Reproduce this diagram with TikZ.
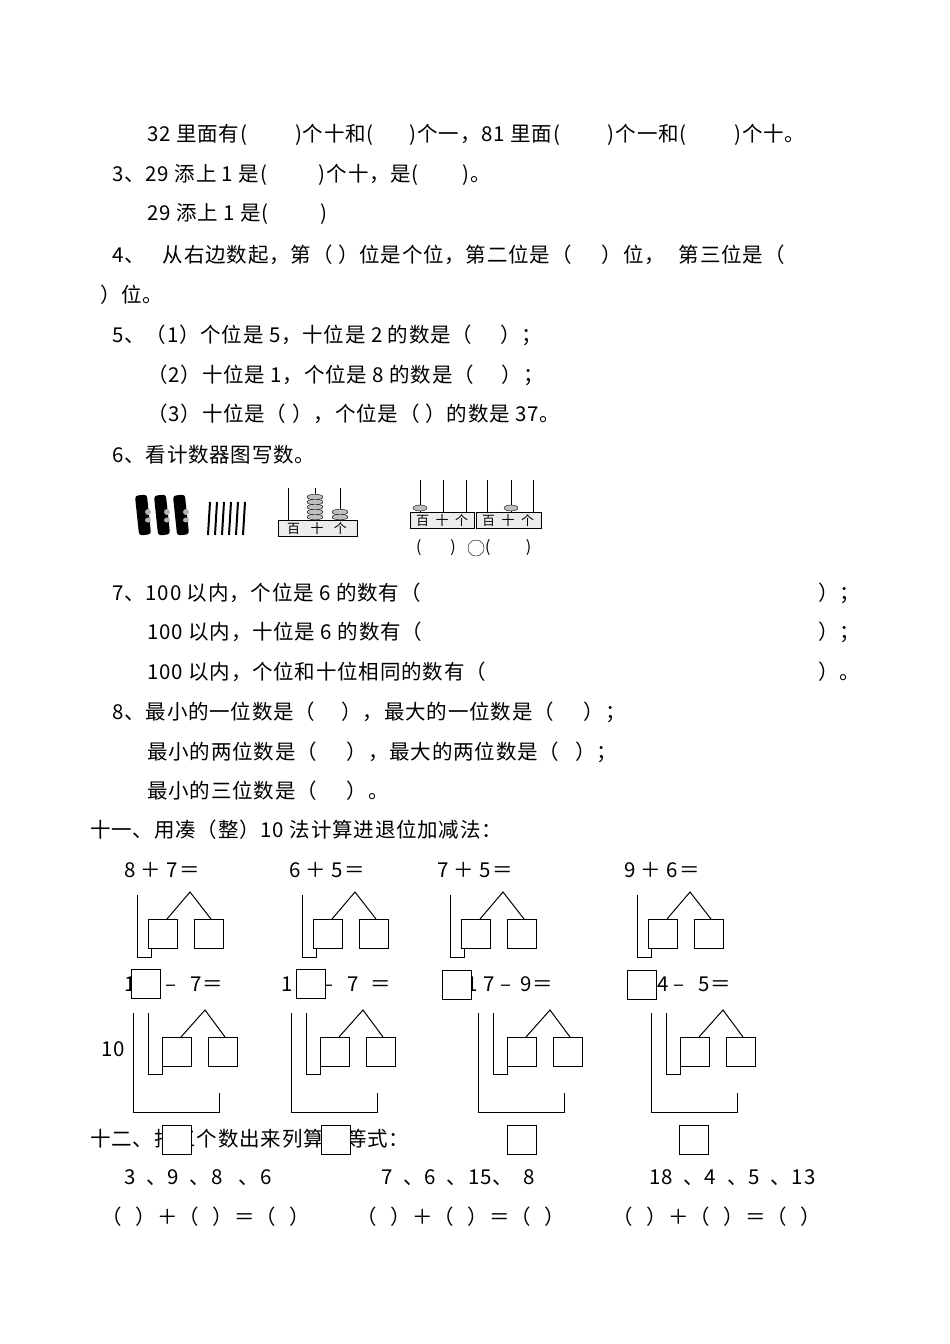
\documentclass[tikz,border=0pt]{standalone}
\usepackage{fontspec}
\setmainfont{Noto Sans CJK SC}[LetterSpace=4]
\begin{document}
\begin{tikzpicture}[x=1pt,y=-1pt,
 t/.style={anchor=west,inner sep=0pt,font=\fontsize{20.5}{20.5}\selectfont},
 bx/.style={draw,line width=1pt,fill=white,minimum size=29pt,inner sep=0pt},
 ln/.style={line width=1pt}]
\useasboundingbox (0,0) rectangle (950,1344);
\node[t] (a1) at (147,135) {32 里面有(\hspace{48pt})个十和(\hspace{36pt})个一，81 里面(\hspace{48pt})个一和(\hspace{48pt})个十。};
\node[t] (a2) at (112,175) {3、29 添上 1 是(\hspace{52pt})个十，是(\hspace{44pt})。};
\node[t] (a3) at (147,214) {29 添上 1 是(\hspace{52pt})};
\node[t] (a4) at (112,255) {4、\hspace{18pt}从右边数起，第（ ）位是个位，第二位是（\hspace{30pt}）位，\hspace{14pt}第三位是（};
\node[t] (a4b) at (100,295) {）位。};
\node[t] (a5) at (112,335) {5、（1）个位是 5，十位是 2 的数是（\hspace{28pt}）；};
\node[t] (a6) at (147,375) {（2）十位是 1，个位是 8 的数是（\hspace{28pt}）；};
\node[t] (a7) at (147,414) {（3）十位是（\hspace{6pt}），个位是（\hspace{6pt}）的数是 37。};
\node[t] (a8) at (112,455) {6、看计数器图写数。};
% bundles
\foreach \x in {143,162,181}{
 \fill[black,rounded corners=3pt,rotate around={6:(\x,515)}] (\x-6,495) rectangle (\x+6,535);
 \fill[gray!60] (\x+5,512) ellipse (3 and 3);
 \fill[gray!60] (\x+5,520) ellipse (3 and 2.5);}
\foreach \x in {208,215,222,229,236,243}{\draw[line width=2pt] (\x,535)--(\x+2,502);}
% abacus 1
\draw[fill=gray!15] (278,520) rectangle (357,536);
\node[inner sep=0pt,font=\fontsize{13}{13}\selectfont] (ab1) at (317,529) {百\hspace{0.8em}十\hspace{0.8em}个};
\foreach \x in {288,315,340}{\draw[line width=1pt] (\x,488)--(\x,520);}
\foreach \i in {0,...,4}{\draw[fill=gray!50] (315,517-5*\i) ellipse (8 and 2.8);}
\foreach \i in {0,1}{\draw[fill=gray!50] (340,517-5*\i) ellipse (8 and 2.8);}
% abacus 2
\draw[fill=gray!15] (410,512) rectangle (474,528);
\draw[fill=gray!15] (476,512) rectangle (541,528);
\node[inner sep=0pt,font=\fontsize{13}{13}\selectfont] (ab2) at (442,521) {百\hspace{0.5em}十\hspace{0.5em}个};
\node[inner sep=0pt,font=\fontsize{13}{13}\selectfont] (ab3) at (508,521) {百\hspace{0.5em}十\hspace{0.5em}个};
\foreach \x in {420,443,466,487,511,533}{\draw[line width=1pt] (\x,480)--(\x,512);}
\draw[fill=gray!50] (420,508) ellipse (7 and 3);
\draw[fill=gray!50] (511,508) ellipse (7 and 3);
\node[t,font=\fontsize{16}{16}\selectfont] (ab4) at (416,548) {(\hspace{1.8em})};
\draw (476,548) circle (8);
\node[t,font=\fontsize{16}{16}\selectfont] (ab5) at (485,548) {(\hspace{2.2em})};
% 7
\node[t] (b1) at (112,593) {7、100 以内，个位是 6 的数有（};
\node[t] (b1e) at (818,593) {）；};
\node[t] (b2) at (147,632) {100 以内，十位是 6 的数有（};
\node[t] (b2e) at (818,632) {）；};
\node[t] (b3) at (147,672) {100 以内，个位和十位相同的数有（};
\node[t] (b3e) at (818,672) {）。};
\node[t] (c1) at (112,712) {8、最小的一位数是（\hspace{26pt}），最大的一位数是（\hspace{30pt}）；};
\node[t] (c2) at (147,752) {最小的两位数是（\hspace{30pt}），最大的两位数是（\hspace{16pt}）；};
\node[t] (c3) at (147,791) {最小的三位数是（\hspace{30pt}）。};
\node[t] (d0) at (90,830) {十一、用凑（整）10 法计算进退位加减法：};
% row1
\foreach \dx/\txt in {0/{8 ＋ 7＝},165/{6 ＋ 5＝},313/{7 ＋ 5＝},500/{9 ＋ 6＝}}{
 \begin{scope}[xshift=\dx]
 \node[t] at (124,870) {\txt};
 \draw[ln] (137,895)--(137,957)--(151,957)--(151,945);
 \draw[ln] (167,919)--(190,892)--(211,919);
 \node[bx,anchor=north west] at (148,919) {};
 \node[bx,anchor=north west] at (194,919) {};
 \end{scope}}
% row2 text
\node[t] (e1) at (124,984) {1\hspace{30pt}–\hspace{14pt}7＝};
\node[t] (e2) at (281,984) {1\hspace{30pt}–\hspace{14pt}7\hspace{12pt}＝};
\node[t] (e3) at (466,984) {1\hspace{6pt}7 – \hspace{4pt}9＝};
\node[t] (e4) at (657,984) {4 –\hspace{8pt} 5＝};
\node[bx,anchor=north west] (f1) at (131,969) {};
\node[bx,anchor=north west] (f2) at (296,969) {};
\node[bx,anchor=north west] (f3) at (442,970) {};
\node[bx,anchor=north west] (f4) at (627,970) {};
\node[t] (ten) at (101,1049) {10};
\foreach \dx in {0,158,345,518}{
 \begin{scope}[xshift=\dx]
 \draw[ln] (148,1013)--(148,1074)--(162,1074)--(162,1065);
 \draw[ln] (133,1013)--(133,1112)--(219,1112)--(219,1093);
 \draw[ln] (181,1037)--(205,1010)--(225,1037);
 \node[bx,anchor=north west] at (162,1037) {};
 \node[bx,anchor=north west] at (208,1037) {};
 \end{scope}}
% 12
\node[t] (g0) at (90,1139) {十二、找三个数出来列算术等式：};
\node[bx,anchor=north west] (h1) at (162,1125) {};
\node[bx,anchor=north west] (h2) at (321,1125) {};
\node[bx,anchor=north west] (h3) at (507,1125) {};
\node[bx,anchor=north west] (h4) at (679,1125) {};
\node[t] (k1) at (124,1178) {3 \ 、9 \ 、8 \ \ 、6};
\node[t] (k2) at (381,1178) {7 \ 、6 \ 、15、 \ 8};
\node[t] (k3) at (649,1178) {18 \ 、4 \ 、5 \ 、13};
\node[t] (m1) at (101,1217) {（\hspace{14pt}）＋（\hspace{14pt}）＝（\hspace{14pt}）};
\node[t] (m2) at (356,1217) {（\hspace{14pt}）＋（\hspace{14pt}）＝（\hspace{14pt}）};
\node[t] (m3) at (612,1217) {（\hspace{14pt}）＋（\hspace{14pt}）＝（\hspace{14pt}）};
\end{tikzpicture}
\end{document}
